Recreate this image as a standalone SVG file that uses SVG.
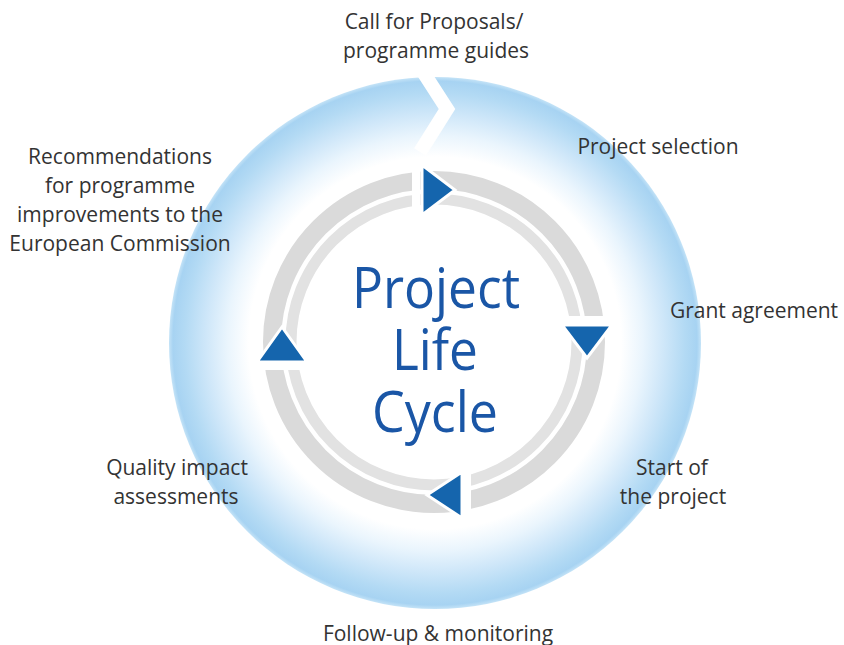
<svg xmlns="http://www.w3.org/2000/svg" width="844" height="645" viewBox="0 0 844 645">
  <defs>
    <radialGradient id="ringGrad" cx="435" cy="343" r="266" gradientUnits="userSpaceOnUse">
      <stop offset="0" stop-color="#ffffff"/>
      <stop offset="0.70" stop-color="#ffffff"/>
      <stop offset="0.78" stop-color="#eaf5fd"/>
      <stop offset="0.86" stop-color="#cfe7f9"/>
      <stop offset="0.94" stop-color="#b3daf4"/>
      <stop offset="0.985" stop-color="#a7d3f2"/>
      <stop offset="1" stop-color="#c4e3f7"/>
    </radialGradient>
    <style>
      .lbl { font-family: "Open Sans", "Noto Sans", "Liberation Sans", sans-serif; font-size: 21px; fill: #333333; text-anchor: middle; }
      .title { font-family: "Open Sans", "Noto Sans", "Liberation Sans", sans-serif; font-size: 56px; fill: #1a56a6; text-anchor: middle; }
      .band-o { fill: none; stroke: #dadada; stroke-width: 18; }
      .band-i { fill: none; stroke: #e2e2e2; stroke-width: 11; }
      .cut { stroke: #ffffff; stroke-width: 8; }
      .tri { fill: #1565ad; stroke: #ffffff; stroke-width: 3; stroke-linejoin: miter; }
    </style>
  </defs>
  <rect width="844" height="645" fill="#ffffff"/>

  <!-- outer blue ring with chevron notch -->
  <g id="outer-ring">
    <circle cx="435" cy="343" r="266" fill="url(#ringGrad)"/>
    <polyline points="418,64 447,109 420,152" fill="none" stroke="#ffffff" stroke-width="14" stroke-linejoin="miter"/>
  </g>

  <!-- inner grey cycle with arrowheads -->
  <g id="connectors">
    <circle class="band-o" cx="434" cy="342" r="162"/>
    <circle class="band-i" cx="434" cy="342" r="143"/>
    <line class="cut" x1="416" y1="160" x2="416" y2="214"/>
    <line class="cut" x1="557" y1="320" x2="616" y2="320"/>
    <line class="cut" x1="467" y1="468" x2="467" y2="524"/>
    <line class="cut" x1="252" y1="366" x2="311" y2="366"/>
    <polygon class="tri" points="422,165 455,190 422,215"/>
    <polygon class="tri" points="562,325 612,325 587,358"/>
    <polygon class="tri" points="462,472 462,518 427,495"/>
    <polygon class="tri" points="257,362 307,362 282,327"/>
  </g>

  <g id="center-title">
    <text class="title" x="436" y="308" textLength="168" lengthAdjust="spacingAndGlyphs">Project</text>
    <text class="title" x="435" y="370" textLength="86" lengthAdjust="spacingAndGlyphs">Life</text>
    <text class="title" x="435" y="432" textLength="126" lengthAdjust="spacingAndGlyphs">Cycle</text>
  </g>

  <g id="call-for-proposals">
    <text class="lbl" x="434" y="29">Call for Proposals/</text>
    <text class="lbl" x="436" y="58">programme guides</text>
  </g>
  <g id="project-selection">
    <text class="lbl" x="658" y="154">Project selection</text>
  </g>
  <g id="grant-agreement">
    <text class="lbl" x="754" y="318">Grant agreement</text>
  </g>
  <g id="start-of-project">
    <text class="lbl" x="672" y="475">Start of</text>
    <text class="lbl" x="673" y="504">the project</text>
  </g>
  <g id="follow-up">
    <text class="lbl" x="438" y="641">Follow-up &amp; monitoring</text>
  </g>
  <g id="quality-impact">
    <text class="lbl" x="177" y="475">Quality impact</text>
    <text class="lbl" x="176" y="504">assessments</text>
  </g>
  <g id="recommendations">
    <text class="lbl" x="120" y="164">Recommendations</text>
    <text class="lbl" x="120" y="193">for programme</text>
    <text class="lbl" x="120" y="222">improvements to the</text>
    <text class="lbl" x="120" y="251">European Commission</text>
  </g>
</svg>
